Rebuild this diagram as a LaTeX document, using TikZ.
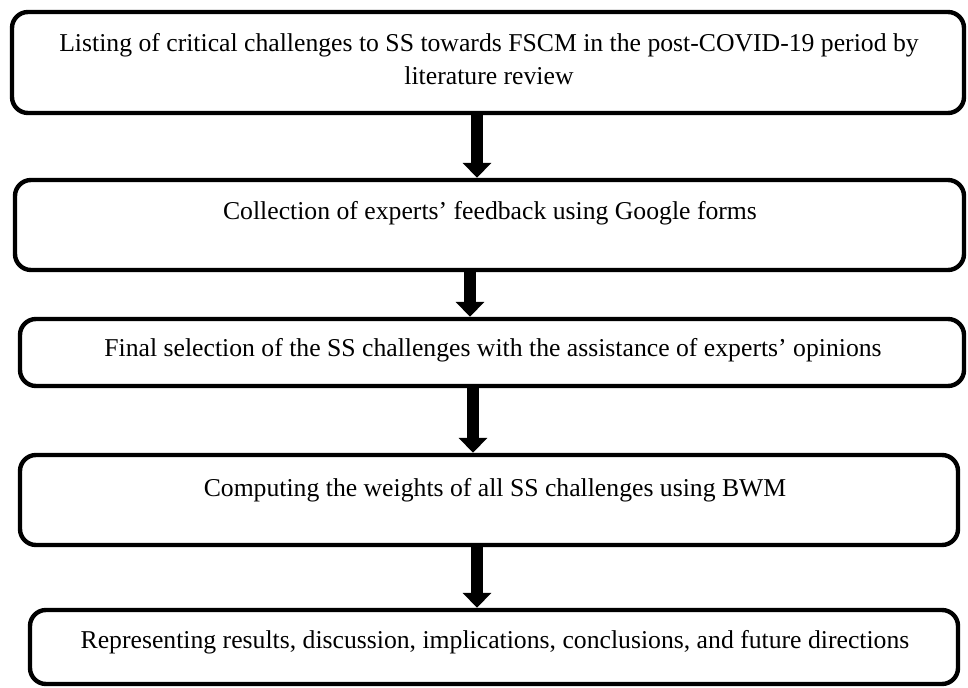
\documentclass[tikz,border=0pt]{standalone}
\usepackage{fontspec}
\setmainfont{Liberation Serif}
\usetikzlibrary{arrows.meta}

\begin{document}
\begin{tikzpicture}
  [x=0.5pt,y=-0.5pt,
   box/.style={draw,rounded corners=8pt,line width=2.2pt,inner sep=0pt},
   txt/.style={anchor=base,inner sep=0pt,font=\fontsize{12.85}{16.5}\selectfont},
   flow/.style={line width=6pt,-{Triangle[width=14pt,length=7.5pt]}}]

  \useasboundingbox (0,0) rectangle (968,688);

  \node[box,minimum width=476pt,minimum height=50.5pt] (1) at (488,62.5) {};
  \node[box,minimum width=474.5pt,minimum height=45pt] (2) at (489.5,225) {};
  \node[box,minimum width=472pt,minimum height=33.5pt] (3) at (492,352.5) {};
  \node[box,minimum width=469pt,minimum height=45pt] (4) at (489,500) {};
  \node[box,minimum width=464pt,minimum height=37pt] (5) at (494,647) {};

  \node[txt,align=center] (t1) at (489,85) {Listing of critical challenges to SS towards FSCM in the post-COVID-19 period by\\ literature review};
  \node[txt] (t2) at (490,220) {Collection of experts' feedback using Google forms};
  \node[txt] (t3) at (493,357) {Final selection of the SS challenges with the assistance of experts' opinions};
  \node[txt] (t4) at (495,497) {Computing the weights of all SS challenges using BWM};
  \node[txt] (t5) at (495,648) {Representing results, discussion, implications, conclusions, and future directions};

  \foreach \from/\to/\x in {1/2/477,2/3/470,3/4/473,4/5/477}
    \draw[flow] (\x,0 |- \from.south) -- (\x,0 |- \to.north);

\end{tikzpicture}
\end{document}
